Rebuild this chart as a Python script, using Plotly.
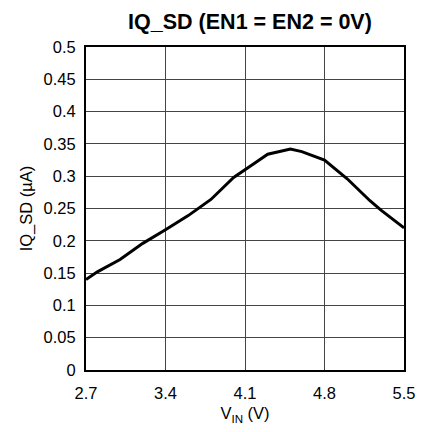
import plotly.graph_objects as go

vin = [2.7, 2.8, 3.0, 3.2, 3.4, 3.6, 3.8, 4.0, 4.2, 4.3, 4.5, 4.6, 4.8, 5.0, 5.2, 5.3, 5.5]
iq_sd = [0.140, 0.152, 0.171, 0.196, 0.217, 0.239, 0.264, 0.298, 0.322, 0.334, 0.342,
         0.338, 0.325, 0.296, 0.262, 0.247, 0.220]
x_ticks = [2.7, 3.4, 4.1, 4.8, 5.5]
y_ticks = [0, 0.05, 0.1, 0.15, 0.2, 0.25, 0.3, 0.35, 0.4, 0.45, 0.5]

FONT = "Arial, Liberation Sans, Helvetica, sans-serif"
W, H = 419, 424  # page body adds an 8px margin

fig = go.Figure()
fig.add_trace(go.Scatter(x=vin, y=iq_sd, mode="lines",
                         line=dict(color="black", width=3), showlegend=False))

fig.update_layout(
    width=W, height=H,
    margin=dict(l=78, r=14, t=39, b=59),
    paper_bgcolor="white", plot_bgcolor="white",
    font=dict(family=FONT, size=16.5, color="black"),
    title=dict(text="<b>IQ_SD (EN1 = EN2 = 0V)</b>", x=242 / W, xanchor="center",
               xref="container", y=1 - 13 / H, yanchor="middle", yref="container",
               font=dict(size=21.5, family=FONT, color="black")),
)
fig.update_xaxes(range=[2.7, 5.5], tickvals=x_ticks,
                 ticktext=[f"{v:.1f}" for v in x_ticks],
                 showgrid=True, gridcolor="#444444", gridwidth=1.3,
                 showline=True, linecolor="black", linewidth=2, mirror=True,
                 ticks="", ticklabelstandoff=7, zeroline=False,
                 title=dict(text="V<sub>IN</sub> (V)", standoff=7,
                            font=dict(size=16.5, family=FONT)))
fig.update_yaxes(range=[0, 0.5], tickvals=y_ticks,
                 ticktext=[f"{v:g}" for v in y_ticks],
                 showgrid=True, gridcolor="#444444", gridwidth=1.3,
                 showline=True, linecolor="black", linewidth=2, mirror=True,
                 ticks="", ticklabelstandoff=5, zeroline=False,
                 title=dict(text="IQ_SD (µA)", standoff=7,
                            font=dict(size=16.5, family=FONT)))

fig.write_html("out.html")
